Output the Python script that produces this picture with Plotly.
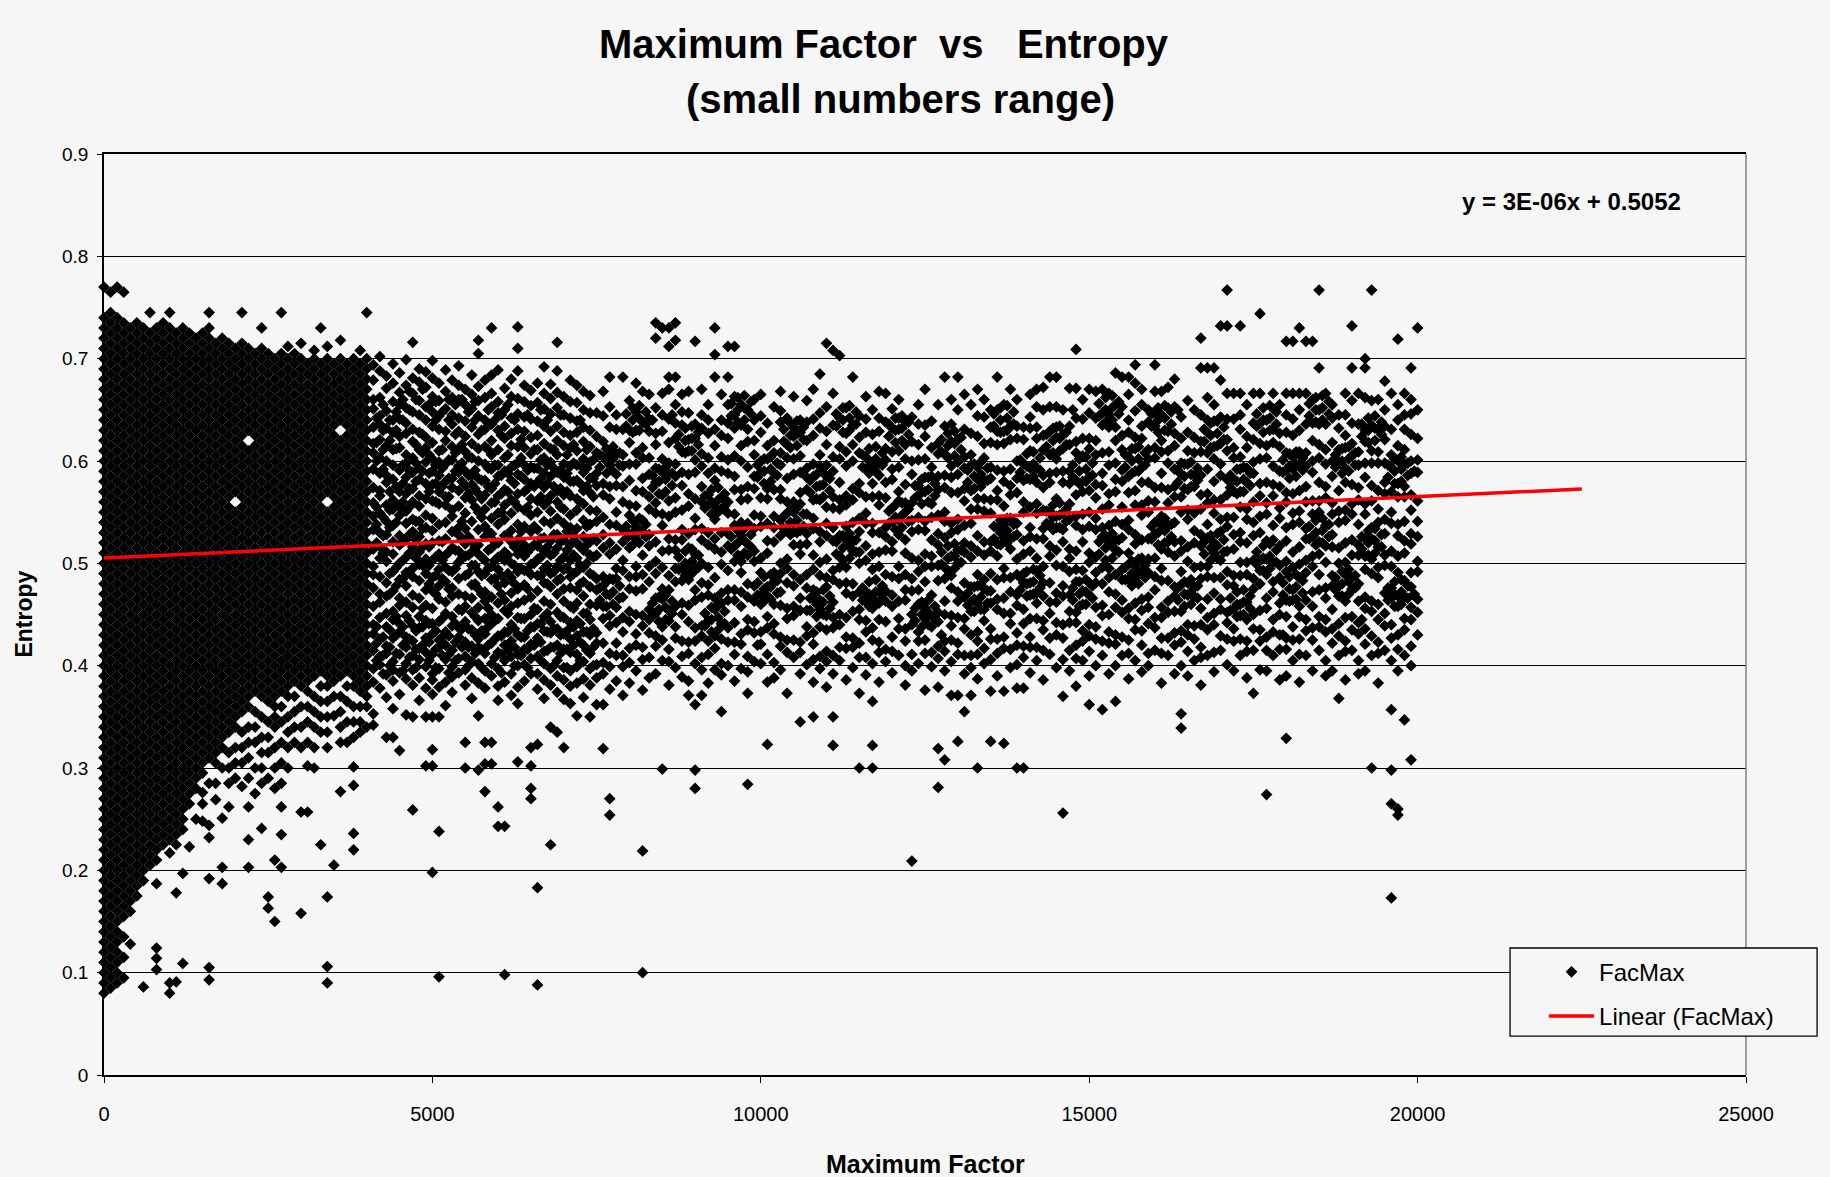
import plotly.graph_objects as go

# FacMax samples, grouped by Maximum Factor (x).  Each entry lists the
# entropy values (in thousandths) observed at that Maximum Factor.
FACMAX_LOW = [
    (0, "80 90 100 110 120 130 140 150 160 170 180 190 200 210 220 230 240 250 260 270 280 290 300 310 320 330 340 350 360 370 380 390 400 410 420 430 440 450 460 470 480 490 500 510 520 530 540 550 560 570 580 590 600 610 620 630 640 650 660 670 680 690 700 710 720 730 740 770"),
    (100, "85 95 105 115 125 135 145 155 165 175 185 195 205 215 225 235 245 255 265 275 285 295 305 315 325 335 345 355 365 375 385 395 405 415 425 435 445 455 465 475 485 495 505 515 525 535 545 555 565 575 585 595 605 615 625 635 645 655 665 675 685 695 705 715 725 735 745 765"),
    (200, "90 100 110 120 130 140 150 160 170 180 190 200 210 220 230 240 250 260 270 280 290 300 310 320 330 340 350 360 370 380 390 400 410 420 430 440 450 460 470 480 490 500 510 520 530 540 550 560 570 580 590 600 610 620 630 640 650 660 670 680 690 700 710 720 730 740 770"),
    (300, "95 115 135 155 165 175 185 195 205 215 225 235 245 255 265 275 285 295 305 315 325 335 345 355 365 375 385 395 405 415 425 435 445 455 465 475 485 495 505 515 525 535 545 555 565 575 585 595 605 615 625 635 645 655 665 675 685 695 705 715 725 735 765"),
    (400, "128 160 170 180 190 200 210 220 230 240 250 260 270 280 290 300 310 320 330 340 350 360 370 380 390 400 410 420 430 440 450 460 470 480 490 500 510 520 530 540 550 560 570 580 590 600 610 620 630 640 650 660 670 680 690 700 710 720 730"),
    (500, "175 185 195 205 215 225 235 245 255 265 275 285 295 305 315 325 335 345 355 365 375 385 395 405 415 425 435 445 455 465 475 485 495 505 515 525 535 545 555 565 575 585 595 605 615 625 635 645 655 665 675 685 695 705 715 725 735"),
    (600, "86 190 200 210 220 230 240 250 260 270 280 290 300 310 320 330 340 350 360 370 380 390 400 410 420 430 440 450 460 470 480 490 500 510 520 530 540 550 560 570 580 590 600 610 620 630 640 650 660 670 680 690 700 710 720 730"),
    (700, "205 215 225 235 245 255 265 275 285 295 305 315 325 335 345 355 365 375 385 395 405 415 425 435 445 455 465 475 485 495 505 515 525 535 545 555 565 575 585 595 605 615 625 635 645 655 665 675 685 695 705 715 725 745"),
    (800, "103 114 124 187 210 220 230 240 250 260 270 280 290 300 310 320 330 340 350 360 370 380 390 400 410 420 430 440 450 460 470 480 490 500 510 520 530 540 550 560 570 580 590 600 610 620 630 640 650 660 670 680 690 700 710 720 730"),
    (900, "225 235 245 255 265 275 285 295 305 315 325 335 345 355 365 375 385 395 405 415 425 435 445 455 465 475 485 495 505 515 525 535 545 555 565 575 585 595 605 615 625 635 645 655 665 675 685 695 705 715 725 735"),
    (1000, "80 90 217 230 240 250 260 270 280 290 300 310 320 330 340 350 360 370 380 390 400 410 420 430 440 450 460 470 480 490 500 510 520 530 540 550 560 570 580 590 600 610 620 630 640 650 660 670 680 690 700 710 720 730 745"),
    (1100, "91 178 225 235 245 255 265 275 285 295 305 315 325 335 345 355 365 375 385 395 405 415 425 435 445 455 465 475 485 495 505 515 525 535 545 555 565 575 585 595 605 615 625 635 645 655 665 675 685 695 705 715 725"),
    (1200, "109 197 240 250 260 270 280 290 300 310 320 330 340 350 360 370 380 390 400 410 420 430 440 450 460 470 480 490 500 510 520 530 540 550 560 570 580 590 600 610 620 630 640 650 660 670 680 690 700 710 720 730"),
    (1300, "223 265 275 285 295 305 315 325 335 345 355 365 375 385 395 405 415 425 435 445 455 465 475 485 495 505 515 525 535 545 555 565 575 585 595 605 615 625 635 645 655 665 675 685 695 705 715 725"),
    (1400, "250 280 290 300 310 320 330 340 350 360 370 380 390 400 410 420 430 440 450 460 470 480 490 500 510 520 530 540 550 560 570 580 590 600 610 620 630 640 650 660 670 680 690 700 710 720"),
    (1500, "248 265 276 295 305 315 325 335 345 355 365 375 385 395 405 415 425 435 445 455 465 475 485 495 505 515 525 535 545 555 565 575 585 595 605 615 625 635 645 655 665 675 685 695 705 715 725"),
    (1600, "93 105 192 232 244 285 310 320 330 340 350 360 370 380 390 400 410 420 430 440 450 460 470 480 490 500 510 520 530 540 550 560 570 580 590 600 610 620 630 640 650 660 670 680 690 700 710 720 730 745"),
    (1700, "269 285 305 315 325 335 345 355 365 375 385 395 405 415 425 435 445 455 465 475 485 495 505 515 525 535 545 555 565 575 585 595 605 615 625 635 645 655 665 675 685 695 705 715"),
    (1800, "187 203 251 300 320 330 340 350 360 370 380 390 400 410 420 430 440 450 460 470 480 490 500 510 520 530 540 550 560 570 580 590 600 610 620 630 640 650 660 670 680 690 700 710 720"),
    (1900, "262 285 300 315 335 345 355 365 375 385 395 405 415 425 435 445 455 465 475 485 495 505 515 525 535 545 555 565 575 585 595 605 615 625 635 645 655 665 675 685 695 705 715"),
    (2000, "290 305 320 340 350 360 370 380 390 400 410 420 430 440 450 460 470 480 490 500 510 520 530 540 550 570 580 590 600 610 620 630 640 650 660 670 680 690 700 710"),
    (2100, "282 305 320 335 355 365 375 385 395 405 415 425 435 445 455 465 475 485 495 505 515 525 535 545 555 565 575 585 595 605 615 625 635 645 655 665 675 685 695 705 715 745"),
    (2200, "203 230 262 290 310 325 340 360 370 380 390 400 410 420 430 440 450 460 470 480 490 500 510 520 530 540 550 560 570 580 590 600 610 630 640 650 660 670 680 690 700 710"),
    (2300, "275 300 325 340 355 375 385 395 405 415 425 435 445 455 465 475 485 495 505 515 525 535 545 555 565 575 585 595 605 615 625 635 645 655 665 675 685 695 705"),
    (2400, "241 285 300 315 330 350 370 380 390 400 410 420 430 440 450 460 470 480 490 500 510 520 530 540 550 560 570 580 590 600 610 620 630 640 650 660 670 680 690 700 710 730"),
    (2500, "163 174 290 315 330 345 365 375 385 395 405 415 425 435 445 455 465 475 485 495 505 515 525 535 545 555 565 575 585 595 605 615 625 635 645 655 665 675 685 695 705"),
    (2600, "150 210 280 300 320 340 350 360 370 380 390 400 410 420 430 440 450 460 470 480 490 500 510 520 530 540 550 560 570 580 590 600 610 620 630 640 650 660 670 680 690 700"),
    (2700, "203 235 262 285 305 325 345 360 375 385 395 405 415 425 435 445 455 465 475 485 495 505 515 525 535 545 555 565 575 585 595 605 615 625 635 645 655 665 675 685 695 705 745"),
    (2800, "300 320 335 350 370 380 390 400 410 420 430 440 450 460 470 480 490 500 510 520 530 540 550 560 570 580 590 600 610 620 630 640 650 660 670 680 690 700 712"),
    (2900, "325 340 355 370 385 395 405 415 425 435 445 455 465 475 485 495 505 515 525 535 545 555 565 575 585 595 605 615 625 635 645 655 665 675 685 695 705"),
    (3000, "158 257 320 340 360 380 390 400 410 420 430 440 450 460 470 480 490 500 510 520 530 540 550 560 570 580 590 600 610 620 630 640 650 660 670 680 690 700 715"),
    (3100, "257 302 325 345 360 375 385 395 405 415 425 435 445 455 465 475 485 495 505 515 525 535 545 555 565 575 585 595 605 615 625 635 645 655 665 675 685 695"),
    (3200, "300 320 340 355 370 390 400 410 420 430 440 450 460 470 480 490 500 510 520 530 540 550 560 570 580 590 600 610 620 630 640 650 660 670 680 690 700 708"),
    (3300, "225 335 350 365 380 395 405 415 425 435 445 455 465 475 485 495 505 515 525 535 545 555 565 575 585 595 605 615 625 635 645 655 665 675 685 695 730"),
    (3400, "90 106 174 320 335 350 365 380 390 400 410 420 430 440 450 460 470 480 490 500 510 520 530 540 550 570 580 590 600 610 620 630 640 650 660 670 680 690 700 712"),
    (3500, "205 351 370 385 395 405 415 425 435 445 455 465 475 485 495 505 515 525 535 545 555 565 575 585 595 605 615 625 635 645 655 665 675 685 695"),
    (3600, "277 325 340 355 370 390 400 410 420 430 440 450 460 470 480 490 500 510 520 530 540 550 560 570 580 590 600 610 620 640 650 660 670 680 690 700 718"),
    (3700, "325 345 365 380 395 405 415 425 435 445 455 465 475 485 495 505 515 525 535 545 555 565 575 585 595 605 615 625 635 645 655 665 675 685 695"),
    (3800, "220 236 283 301 330 345 360 380 390 400 410 420 430 440 450 460 470 480 490 500 510 520 530 540 550 560 570 580 590 600 610 620 630 640 650 660 670 680 690 700"),
    (3900, "335 345 360 375 385 395 405 415 425 435 445 455 465 475 485 495 505 515 525 535 545 555 565 575 585 595 605 615 625 635 645 655 665 675 685 695 708"),
    (4000, "340 360 370 380 390 400 410 420 430 440 450 460 470 480 490 500 510 520 530 540 550 560 570 580 590 600 610 620 630 640 650 660 670 680 690 700 745"),
]

FACMAX_MID = [
    (4100, "342 353 384 397 415 431 440 458 476 489 497 514 533 546 559 574 592 608 617 633 651 660 679 694"),
    (4200, "378 401 409 426 447 462 470 487 505 516 530 549 566 571 588 603 621 636 644 662 688 702"),
    (4300, "330 369 391 412 419 438 451 468 481 502 511 528 541 557 579 586 600 615 632 649 671 683"),
    (4400, "330 358 385 396 404 427 445 453 473 492 509 521 537 553 562 582 596 611 628 640 658 676 695"),
    (4500, "317 372 393 411 433 441 459 466 484 500 518 527 547 555 570 591 613 624 641 655 667 686"),
    (4600, "352 387 402 418 428 449 462 478 491 506 523 539 551 568 584 598 606 627 637 652 674 699"),
    (4700, "259 350 381 396 410 424 439 457 469 487 495 516 531 543 560 573 589 603 619 631 648 666 681 716"),
    (4800, "366 388 406 417 437 448 466 483 499 511 526 541 556 566 582 593 611 628 645 659 677 690"),
    (4900, "302 350 378 399 413 427 444 459 474 490 504 519 535 547 563 578 599 613 623 640 653 672 687"),
    (5000, "198 302 318 350 372 386 392 411 431 441 456 473 486 503 520 532 544 561 577 590 602 618 634 648 663 681 698"),
    (5100, "96 238 350 379 397 418 425 443 465 478 494 509 522 538 558 570 586 599 610 631 644 659 676"),
    (5200, "361 384 406 420 433 451 462 482 496 508 524 540 557 565 580 597 620 629 651 668 689"),
    (5300, "374 389 399 415 439 448 468 476 492 515 531 546 552 574 583 601 614 636 645 662 679"),
    (5400, "393 407 428 437 455 470 485 501 512 528 535 556 571 589 595 611 629 642 660 674 693"),
    (5500, "300 325 381 396 409 423 443 458 468 488 507 519 534 549 564 576 590 609 624 639 655 670"),
    (5600, "368 388 404 419 435 452 466 479 498 511 522 541 562 577 586 603 617 633 651 665 684"),
    (5700, "298 351 383 402 418 426 444 457 475 492 509 518 533 550 568 583 600 612 626 644 659 673 705 718"),
    (5800, "277 304 325 378 395 412 431 446 463 472 490 503 526 536 553 567 581 597 614 631 640 662 679"),
    (5900, "304 325 390 402 422 441 450 467 484 497 515 529 544 559 573 592 606 620 636 653 666 684 730"),
    (6000, "243 262 366 380 397 413 429 446 461 478 494 506 520 538 549 566 585 596 611 630 647 658 689"),
    (6100, "98 243 384 405 420 433 454 464 481 503 511 527 543 557 572 590 603 622 634 650 671"),
    (6200, "371 392 409 424 440 458 471 486 500 521 532 549 562 581 594 615 627 642 663 680"),
    (6300, "306 363 379 400 411 430 447 461 475 492 509 523 538 555 568 587 598 614 631 646 661 688 710 731"),
    (6400, "385 401 416 428 446 464 479 493 507 518 536 552 570 582 596 613 629 643 658 674"),
    (6500, "270 280 302 320 392 407 421 438 450 467 489 499 515 531 547 563 578 594 607 623 641 654 669"),
    (6600, "88 183 323 377 392 409 427 441 455 473 488 504 517 533 550 561 579 593 611 625 639 657 676"),
    (6700, "368 386 402 414 434 448 463 481 495 512 525 541 557 574 588 603 617 634 651 666 692"),
    (6800, "225 340 381 397 418 432 443 460 477 490 508 522 539 551 566 585 599 612 629 646 661 675"),
    (6900, "335 374 390 405 420 436 452 470 483 497 515 528 544 560 571 589 606 620 634 652 667 688 716"),
    (7000, "320 367 386 398 416 431 447 463 475 494 506 523 539 553 567 584 597 615 628 645 663"),
    (7100, "363 380 395 413 426 442 458 476 487 503 518 535 547 566 580 595 613 625 642 658 679"),
    (7200, "351 383 399 411 429 444 461 474 492 505 520 534 552 563 581 596 610 628 639 657 674"),
    (7300, "369 387 404 420 433 451 468 482 496 513 526 542 558 571 589 602 619 633 650 668"),
    (7400, "350 381 397 412 430 445 460 477 490 508 521 538 552 569 583 599 614 630 647 664"),
    (7500, "362 388 401 422 432 459 474 485 508 522 541 551 576 588 608 624 647"),
    (7600, "319 362 392 403 422 446 458 478 487 515 528 545 567 578 604 619 644 668"),
    (7700, "254 270 377 399 412 439 449 469 485 509 520 538 563 575 596 606 633 653 682"),
    (7800, "385 410 422 442 457 485 495 514 537 550 576 587 607 631 645"),
    (7900, "371 399 410 433 447 467 493 503 521 533 560 575 595 606 631 682"),
    (8000, "383 403 417 443 453 475 487 515 528 547 557 581 597 618 630 659"),
    (8100, "395 420 431 450 473 487 497 524 536 556 571 597 608 630 648 676"),
    (8200, "100 219 376 406 418 439 449 475 489 508 531 542 570 583 603 613 638 668"),
    (8300, "388 408 432 445 455 482 497 517 528 553 565 587 603 629 641 665"),
    (8400, "392 419 429 451 466 490 502 521 549 559 579 593 616 627 652 720 735"),
    (8500, "299 405 425 438 465 475 496 512 537 548 567 589 602 629 645 666 730"),
    (8600, "381 404 416 444 454 474 488 513 524 546 561 588 598 618 641 670 682 712 730"),
    (8700, "398 427 438 458 482 495 513 523 550 564 585 597 622 637 655 682 718 735"),
    (8800, "389 409 424 450 461 483 495 523 533 552 576 589 609 635 648 665"),
    (8900, "371 385 412 423 443 459 484 494 515 529 556 568 587 610 621 647 668"),
    (9000, "280 298 362 402 424 437 464 474 494 509 533 544 563 589 601 622 636 717"),
    (9100, "371 396 408 429 439 467 481 500 523 534 560 575 595 607 632 645 670"),
    (9200, "383 411 424 444 469 479 496 518 530 557 567 588 603 627 640 655"),
    (9300, "396 417 429 455 466 486 514 524 543 556 581 593 615 631 682 704 730"),
    (9400, "355 391 402 426 441 461 471 499 511 530 553 564 590 604 625 640 665"),
    (9500, "400 423 437 464 474 493 517 529 549 560 588 601 622 637 655 682 712"),
    (9600, "385 411 423 442 464 474 502 517 537 548 572 585 605 632 645 663 712"),
    (9700, "397 421 431 458 472 491 502 527 540 562 572 600 615 635 655"),
    (9800, "284 373 394 409 435 445 467 480 508 519 539 563 575 594 619 631 650"),
    (9900, "404 432 443 463 478 502 512 534 547 573 585 606 620 640 660"),
]

FACMAX_HIGH = [
    (10000, "402 421 433 460 469 491 505 536 546 564 589 600 628 644 665"),
    (10100, "323 384 411 437 448 468 477 510 522 539 563 573 602 615 637"),
    (10200, "388 403 431 441 460 482 491 521 535 546 572 588 608 620 653"),
    (10300, "396 419 428 459 472 490 500 527 542 563 572 596 608 638 649 668"),
    (10400, "373 413 425 446 456 481 495 504 532 549 560 583 603 616 642"),
    (10500, "408 425 449 458 478 489 518 531 550 560 587 602 624 633 663"),
    (10600, "345 392 413 423 454 466 484 509 518 532 558 569 589 605 628 640"),
    (10700, "401 429 438 454 476 489 519 529 548 572 584 593 620 638 659"),
    (10800, "350 384 406 421 432 465 474 494 508 534 544 562 585 597 625 641 670"),
    (10900, "397 409 438 455 464 488 501 521 531 562 576 595 606 632 647 685"),
    (11000, "379 404 414 435 449 477 486 504 527 539 555 585 596 616 629 653 715"),
    (11100, "322 350 392 410 437 447 462 484 493 522 535 554 565 590 604 635 666 708"),
    (11200, "405 418 440 450 480 496 507 527 553 562 579 602 614 642 703"),
    (11300, "386 417 428 447 471 481 496 523 536 557 566 595 609 627 652"),
    (11400, "398 418 427 453 468 480 512 522 540 562 573 600 616 635 682"),
    (11500, "300 373 408 422 445 455 472 500 511 531 544 569 578 608 623 644"),
    (11600, "391 408 433 444 463 472 503 517 539 549 565 592 604 628 641 663"),
    (11700, "300 322 365 402 425 437 456 466 494 509 530 539 565 578 596 626 650"),
    (11800, "384 413 423 445 461 472 497 511 530 557 566 586 598 629 642 668"),
    (11900, "404 416 443 463 473 489 513 526 535 564 579 601 612 638 666"),
    (12000, "393 414 428 458 469 487 512 521 541 554 582 592 609 632 651"),
    (12100, "410 436 446 463 485 497 528 542 561 570 594 610 631 642 660"),
    (12200, "381 400 424 436 464 474 489 510 523 550 559 577 602 616 638"),
    (12300, "209 395 411 440 450 473 485 505 531 542 559 587 600 619 643"),
    (12400, "402 424 433 460 474 492 503 533 545 566 576 601 616 636 655"),
    (12500, "376 412 425 446 456 482 497 509 532 541 570 584 602 624 635 670"),
    (12600, "399 413 438 449 469 497 507 523 545 558 585 594 613 639"),
    (12700, "281 319 379 407 419 443 452 483 498 518 529 547 572 585 607 617 655"),
    (12800, "308 395 414 424 450 463 485 496 525 541 550 574 586 607 634 682"),
    (12900, "371 404 425 439 449 476 488 507 530 539 569 584 595 619 636 660"),
    (13000, "326 371 411 422 447 463 472 500 513 533 543 569 587 599 621 650 682"),
    (13100, "355 392 410 436 446 467 481 511 520 537 561 573 593 604 631 665"),
    (13200, "371 398 410 430 453 462 477 506 517 539 553 571 596 606 627 655"),
    (13300, "300 387 411 424 433 461 478 489 512 527 553 563 582 594 624 644 670"),
    (13400, "402 417 444 455 475 484 508 521 551 563 581 603 617 643 660"),
    (13500, "326 375 406 426 436 461 473 490 512 521 549 562 583 594 618 633 650"),
    (13600, "390 412 426 455 465 484 507 519 535 562 571 591 616 629 650 682"),
    (13700, "324 375 417 428 451 466 486 495 525 538 556 580 590 617 629 655"),
    (13800, "398 416 441 451 472 486 514 525 544 567 576 592 621 634 670"),
    (13900, "300 378 401 420 432 459 469 489 504 528 539 569 583 600 622 634 660"),
    (14000, "300 378 408 419 441 455 481 490 509 522 550 560 581 597 621 633"),
    (14100, "393 418 428 446 469 481 512 526 535 555 582 593 610 632 643 665"),
    (14200, "405 418 446 461 471 493 505 524 549 558 579 593 622 633 653 670"),
    (14300, "386 415 435 444 468 481 497 524 534 552 574 586 611 625 650 672"),
    (14400, "411 427 451 462 481 507 517 538 551 579 588 606 629 653 682"),
    (14500, "398 430 442 462 471 498 513 535 546 563 589 602 623 633 653 682"),
    (14600, "256 370 406 427 440 468 478 497 521 533 549 579 590 612 626 650"),
    (14700, "395 415 442 453 469 492 505 514 543 558 578 590 616 634 671"),
    (14800, "380 407 420 442 452 482 494 512 537 546 567 581 608 619 642 671 709"),
    (14900, "405 424 434 460 473 493 521 533 548 570 580 605 622 641 660"),
    (15000, "362 390 414 429 440 469 481 501 510 536 550 571 584 612 622 647 670"),
    (15100, "400 426 438 457 481 491 506 533 544 564 577 606 620 642 668"),
    (15200, "357 410 424 449 459 480 496 526 535 553 576 588 608 635 647 670"),
    (15300, "392 422 433 450 472 486 495 521 537 557 568 596 609 633 645 666"),
    (15400, "365 400 421 430 457 470 489 513 523 541 570 582 598 620 633 655 686"),
    (15500, "410 428 452 464 484 494 525 538 555 580 591 611 625 653 682"),
    (15600, "387 412 425 446 456 484 499 510 533 542 569 585 604 628 640 665 682"),
    (15700, "405 435 445 461 486 498 519 528 557 571 590 612 623 649 676 694"),
    (15800, "394 420 434 454 465 492 505 523 547 557 579 594 622 634 655 670"),
    (15900, "400 412 441 457 467 491 504 524 550 561 579 602 611 638 650"),
    (16000, "415 437 447 474 487 505 529 540 560 574 603 613 634 647 668 694"),
    (16100, "383 412 427 447 457 483 495 514 537 546 574 588 609 620 645 668"),
    (16200, "410 427 452 463 483 511 521 537 559 572 598 610 629 652 672"),
    (16300, "392 420 432 453 468 477 507 521 540 565 575 592 615 627 653 680"),
    (16400, "339 353 400 423 434 453 479 492 512 522 550 565 587 598 622 643"),
    (16500, "390 414 430 440 469 481 502 516 543 552 572 597 610 628 659"),
    (16600, "405 426 439 467 477 496 520 532 549 575 586 608 623 650"),
    (16700, "381 408 418 440 456 485 497 517 528 553 567 586 609 619 645 691 720"),
    (16800, "410 435 447 465 487 497 525 538 559 568 592 608 628 640 662 691"),
    (16900, "394 413 440 451 471 486 510 520 549 562 580 602 614 639 655 691"),
    (17000, "415 429 455 465 486 503 531 543 562 586 597 617 643 679 732"),
    (17100, "401 426 442 452 479 492 512 536 545 567 582 610 621 641 666 732 767"),
    (17200, "395 424 436 455 478 488 514 528 545 570 582 603 613 641 666"),
    (17300, "410 426 449 460 488 501 521 530 555 570 592 604 631 645 666 732"),
    (17400, "388 414 424 445 462 489 501 520 543 553 579 593 613 624 655"),
    (17500, "373 415 436 450 475 485 503 527 540 560 588 599 621 637 666"),
    (17600, "396 424 435 454 480 493 503 530 546 566 578 602 617 637 666 744"),
    (17700, "274 395 415 428 456 466 489 504 522 548 559 579 603 615 640"),
    (17800, "410 433 445 472 482 501 523 537 566 577 595 618 631 651 666"),
    (17900, "386 416 430 450 461 486 498 517 544 554 575 590 614 627 655"),
    (18000, "329 390 416 427 448 464 492 502 522 535 560 569 591 608 628 645 666 717"),
    (18100, "405 425 438 464 474 496 511 538 549 568 592 604 625 641 666 717"),
    (18200, "384 411 426 448 458 486 499 516 540 551 571 597 609 630 650 666 730"),
    (18300, "410 434 445 464 491 503 524 534 560 575 595 608 636 666 717"),
    (18400, "395 425 437 458 472 497 507 526 548 561 589 600 620 637 660 717"),
    (18500, "415 438 448 474 489 509 521 550 561 579 603 616 636 650 691 767"),
    (18600, "390 405 433 445 466 476 501 517 537 564 575 597 611 636 666"),
    (18700, "395 422 436 455 478 488 516 528 548 559 585 600 618 642 655"),
    (18800, "368 410 429 441 468 478 500 515 540 551 571 599 611 632 645"),
    (18900, "386 414 424 447 463 489 501 520 542 552 579 593 613 625 645 666"),
    (19000, "415 435 448 475 486 508 523 548 558 577 605 617 637 659 691 732"),
    (19100, "392 405 431 442 463 480 508 518 538 562 574 596 609 636 666"),
    (19200, "395 421 436 456 467 494 507 525 548 558 584 598 619 630 662 691 700"),
    (19300, "300 410 429 453 463 490 504 524 535 561 576 598 610 635 659 767"),
    (19400, "383 412 423 445 460 486 496 516 540 553 571 598 609 631 660"),
    (19500, "415 439 451 471 498 508 529 543 568 579 598 621 634 650 678"),
    (19600, "173 265 298 357 405 427 440 466 476 497 512 539 550 570 594 606 631 666"),
    (19700, "254 260 395 416 430 458 468 491 507 527 538 565 578 600 615 640 655 719"),
    (19800, "347 410 435 446 467 483 510 522 541 565 575 597 611 631 645 666"),
    (19900, "308 400 419 445 457 477 491 519 529 552 567 588 600 626 646 660 691"),
    (20000, "430 452 465 492 502 526 541 561 589 601 622 650 730"),
]

# Samples that fall between the 100-step columns above.
FACMAX_BETWEEN = [
    (4150, "405 422 438 520 538 555 600 618 642"),
    (4250, "392 410 428 510 527 545 592 611 630 655"),
    (4350, "400 418 435 470 490 535 552 570 620 640"),
    (4450, "412 430 448 478 496 540 558 575 612 630 648"),
    (4550, "395 420 438 485 503 521 560 578 596 640 660"),
    (4650, "408 426 444 492 510 528 555 573 591 650 668"),
    (4750, "398 416 434 505 523 541 580 598 616 660"),
    (4850, "420 438 456 498 516 534 590 608 626 670"),
    (4950, "405 423 441 480 498 516 570 588 606 655"),
    (5050, "398 416 434 470 488 506 560 578 596 640 658"),
    (5150, "410 428 446 485 503 521 575 593 611 648"),
    (5250, "393 411 429 475 493 511 565 583 601 640 660"),
    (5350, "405 423 441 495 513 531 590 608 626 655"),
    (5450, "418 436 454 505 523 541 580 598 616 660"),
    (5550, "400 418 436 490 508 526 568 586 604 648"),
    (5650, "412 430 448 480 498 516 555 573 591 640 658"),
    (5750, "398 416 434 470 488 506 545 563 581 630"),
    (5850, "420 438 456 495 513 531 575 593 611 650"),
    (5950, "408 426 444 485 503 521 560 578 596 640"),
    (6050, "393 411 429 470 488 506 550 568 586 625 645"),
    (6150, "415 433 451 490 508 526 570 588 606 655"),
    (6250, "400 418 436 480 498 516 560 578 596 640"),
    (6350, "410 428 446 495 513 531 585 603 621"),
    (6450, "398 416 434 475 493 511 555 573 591 645"),
    (6550, "420 438 456 500 518 536 575 593 611"),
    (6650, "405 423 441 488 506 524 565 583 601 650"),
    (6750, "415 433 451 480 498 516 560 578 596 640"),
    (6850, "400 418 436 492 510 528 575 593 611"),
    (6950, "412 430 448 485 503 521 555 573 591 645"),
    (7050, "398 416 434 495 513 531 570 588 606"),
    (7150, "420 438 456 490 508 526 580 598 616"),
    (7250, "405 423 441 480 498 516 560 578 596 640"),
    (7350, "415 433 451 500 518 536 575 593 611"),
    (7450, "400 418 436 488 506 524 565 583 601"),
    (7550, "464 476 594 606"),
    (7650, "458 470 482 588 600 612"),
    (7750, "460 472 484 590 602 614"),
    (7850, "466 478 596 608"),
    (7950, "524 536 634 646"),
    (8050, "518 530 542 628 640 652"),
    (8150, "520 532 544 630 642 654"),
    (8250, "526 538 636 648"),
    (8350, "449 461 574 586 640"),
    (8450, "443 455 467 568 580 592"),
    (8550, "445 457 469 570 582 594"),
    (8650, "451 463 576 588 645"),
    (8750, "494 506 614 626"),
    (8850, "488 500 512 608 620 632"),
    (8950, "490 502 514 610 622 634"),
    (9050, "496 508 616 628"),
    (9150, "439 451 554 566"),
    (9250, "433 445 457 548 560 572"),
    (9350, "435 447 459 550 562 574"),
    (9450, "441 453 556 568"),
    (9550, "514 526 644 656"),
    (9650, "508 520 532 638 650 662"),
    (9750, "510 522 534 640 652 664"),
    (9850, "516 528 646 658"),
    (9950, "420 469 481 584 596"),
    (10050, "463 475 487 578 590 602"),
    (10150, "465 477 489 580 592 604"),
    (10250, "471 483 586 598"),
    (10350, "534 546 619 631"),
    (10450, "528 540 552 613 625 637"),
    (10550, "530 542 554 615 627 639"),
    (10650, "536 548 621 633"),
    (10750, "454 466 569 581"),
    (10850, "448 460 472 563 575 587"),
    (10950, "450 462 474 565 577 589"),
    (11050, "456 468 571 583"),
    (11150, "440 509 521 634 646"),
    (11250, "503 515 527 628 640 652"),
    (11350, "505 517 529 630 642 654"),
    (11450, "511 523 636 648"),
    (11550, "464 476 594 606"),
    (11650, "458 470 482 588 600 612"),
    (11750, "460 472 484 590 602 614"),
    (11850, "466 478 596 608"),
    (11950, "539 551 624 636"),
    (12050, "533 545 557 618 630 642"),
    (12150, "535 547 559 620 632 644"),
    (12250, "541 553 626 638"),
    (12350, "444 456 564 576"),
    (12450, "438 450 462 558 570 582"),
    (12550, "440 452 464 560 572 584"),
    (12650, "446 458 566 578"),
    (12750, "430 499 511 609 621"),
    (12850, "493 505 517 603 615 627"),
    (12950, "495 507 519 605 617 629"),
    (13050, "501 513 611 623"),
    (13150, "459 471 579 591"),
    (13250, "453 465 477 573 585 597"),
    (13350, "455 467 479 575 587 599"),
    (13450, "461 473 581 593"),
    (13550, "524 536 634 646"),
    (13650, "518 530 542 628 640 652"),
    (13750, "520 532 544 630 642 654"),
    (13850, "526 538 636 648"),
    (13950, "474 486 589 601"),
    (14050, "468 480 492 583 595 607"),
    (14150, "470 482 494 585 597 609"),
    (14250, "476 488 591 603"),
    (14350, "539 551 614 626"),
    (14450, "533 545 557 608 620 632"),
    (14550, "535 547 559 610 622 634"),
    (14650, "541 553 616 628"),
    (14750, "464 476 584 596 650"),
    (14850, "458 470 482 578 590 602"),
    (14950, "460 472 484 580 592 604"),
    (15050, "466 478 586 598"),
    (15150, "509 521 644 656"),
    (15250, "503 515 527 638 650 662"),
    (15350, "505 517 529 640 652 664"),
    (15450, "511 523 646 658"),
    (15550, "484 496 594 606"),
    (15650, "478 490 502 588 600 612"),
    (15750, "480 492 504 590 602 614"),
    (15850, "486 498 596 608"),
    (15950, "524 536 634 646"),
    (16050, "518 530 542 628 640 652"),
    (16150, "520 532 544 630 642 654"),
    (16250, "526 538 636 648"),
    (16350, "464 476 579 591 650"),
    (16450, "458 470 482 573 585 597"),
    (16550, "460 472 484 575 587 599"),
    (16650, "466 478 581 593"),
    (16750, "509 521 619 631"),
    (16850, "503 515 527 613 625 637"),
    (16950, "505 517 529 615 627 639"),
    (17050, "511 523 621 633"),
    (17150, "454 466 574 586"),
    (17250, "448 460 472 568 580 592"),
    (17350, "450 462 474 570 582 594"),
    (17450, "456 468 576 588"),
    (17550, "499 511 634 646"),
    (17650, "493 505 517 628 640 652"),
    (17750, "495 507 519 630 642 654"),
    (17850, "501 513 636 648"),
    (17950, "430 469 481 589 601"),
    (18050, "463 475 487 583 595 607"),
    (18150, "465 477 489 585 597 609"),
    (18250, "471 483 591 603"),
    (18350, "524 536 644 656"),
    (18450, "518 530 542 638 650 662"),
    (18550, "520 532 544 640 652 664"),
    (18650, "526 538 646 658"),
    (18750, "474 486 594 606"),
    (18850, "468 480 492 588 600 612"),
    (18950, "470 482 494 590 602 614"),
    (19050, "476 488 596 608"),
    (19150, "445 514 526 624 636"),
    (19250, "508 520 532 618 630 642"),
    (19350, "510 522 534 620 632 644"),
    (19450, "516 528 626 638"),
    (19550, "464 476 584 596"),
    (19650, "458 470 482 578 590 602"),
    (19750, "460 472 484 580 592 604"),
    (19850, "466 478 586 598"),
    (19950, "470 590"),
]

# Excel-style linear trendline of FacMax
TREND_SLOPE = 3e-06
TREND_INTERCEPT = 0.5052
TREND_X = [0, 22500]

X_TICKS = [0, 5000, 10000, 15000, 20000, 25000]
X_TICK_TEXT = ["0", "5000", "10000", "15000", "20000", "25000"]
Y_TICKS = [0, 0.1, 0.2, 0.3, 0.4, 0.5, 0.6, 0.7, 0.8, 0.9]
Y_TICK_TEXT = ["0", "0.1", "0.2", "0.3", "0.4", "0.5", "0.6", "0.7", "0.8", "0.9"]

BG = "#f6f6f6"
FONT = "Arial, Liberation Sans, sans-serif"


def expand(columns):
    xs, ys = [], []
    for x, values in columns:
        for v in values.split():
            xs.append(x)
            ys.append(int(v) / 1000)
    return xs, ys


fac_x, fac_y = [], []
for block in (FACMAX_LOW, FACMAX_MID, FACMAX_HIGH, FACMAX_BETWEEN):
    bx, by = expand(block)
    fac_x += bx
    fac_y += by

trend_y = [TREND_INTERCEPT + TREND_SLOPE * x for x in TREND_X]
equation = f"y = {TREND_SLOPE:.0E}x + {TREND_INTERCEPT:.4f}"

fig = go.Figure()
fig.add_trace(go.Scatter(
    x=fac_x, y=fac_y, mode="markers", name="FacMax", legendgroup="pts",
    marker=dict(symbol="diamond", size=7.5, color="#000000",
                line=dict(color="#000000", width=1.4)),
    cliponaxis=False,
))
fig.add_trace(go.Scatter(
    x=TREND_X, y=trend_y, mode="lines", name="Linear (FacMax)", legendgroup="fit",
    line=dict(color="#ff0000", width=3.5),
))

fig.update_layout(
    width=1830, height=1177,
    margin=dict(l=104, r=84, t=154, b=102),
    paper_bgcolor=BG, plot_bgcolor=BG,
    font=dict(family=FONT, color="#000000", size=19),
    showlegend=True,
    legend=dict(
        x=0.877, y=0.136, xanchor="left", yanchor="top",
        bgcolor="rgba(0,0,0,0)", borderwidth=0,
        font=dict(size=24, family=FONT),
        itemwidth=45, tracegroupgap=10,
    ),
    xaxis=dict(
        range=[0, 25000], tickvals=X_TICKS, ticktext=X_TICK_TEXT,
        ticks="outside", ticklen=6,
        tickcolor="#000000", tickfont=dict(size=20), ticklabelstandoff=14,
        showline=True, linecolor="#000000", linewidth=1.5, mirror=True,
        showgrid=False, zeroline=False,
    ),
    yaxis=dict(
        range=[0, 0.9], tickvals=Y_TICKS, ticktext=Y_TICK_TEXT,
        ticks="outside", ticklen=5, tickcolor="#000000",
        tickfont=dict(size=19), ticklabelstandoff=5,
        showline=True, linecolor="#000000", linewidth=1.5,
        showgrid=True, gridcolor="#000000", gridwidth=1.3, zeroline=False,
    ),
    shapes=[
        dict(type="line", xref="paper", yref="paper", x0=1, x1=1, y0=0, y1=1,
             line=dict(color="#808080", width=1.5)),
        # legend frame
        dict(type="rect", xref="paper", yref="paper", x0=0.8563, x1=1.0433,
             y0=0.0423, y1=0.1379, fillcolor=BG, layer="above",
             line=dict(color="#000000", width=1.3)),
    ],
    annotations=[
        dict(text="<b>Maximum Factor\u00a0\u00a0vs\u00a0\u00a0\u00a0Entropy</b>",
             xref="paper", yref="paper", x=0.475, y=1.1194, xanchor="center", yanchor="middle",
             showarrow=False, font=dict(size=40, family=FONT)),
        dict(text="<b>(small numbers range)</b>",
             xref="paper", yref="paper", x=0.485, y=1.0597, xanchor="center", yanchor="middle",
             showarrow=False, font=dict(size=40, family=FONT)),
        dict(text="<b>Maximum Factor</b>", xref="paper", yref="paper", x=0.5, y=-0.0962,
             xanchor="center", yanchor="middle", showarrow=False, font=dict(size=25, family=FONT)),
        dict(text="<b>Entropy</b>", xref="paper", yref="paper", x=-0.0493, y=0.5,
             xanchor="center", yanchor="middle", textangle=-90, showarrow=False,
             font=dict(size=23, family=FONT)),
        dict(text=f"<b>{equation}</b>", xref="paper", yref="paper", x=0.894, y=0.948,
             xanchor="center", yanchor="middle", showarrow=False, font=dict(size=24, family=FONT)),
    ],
)

fig.write_html("out.html")
